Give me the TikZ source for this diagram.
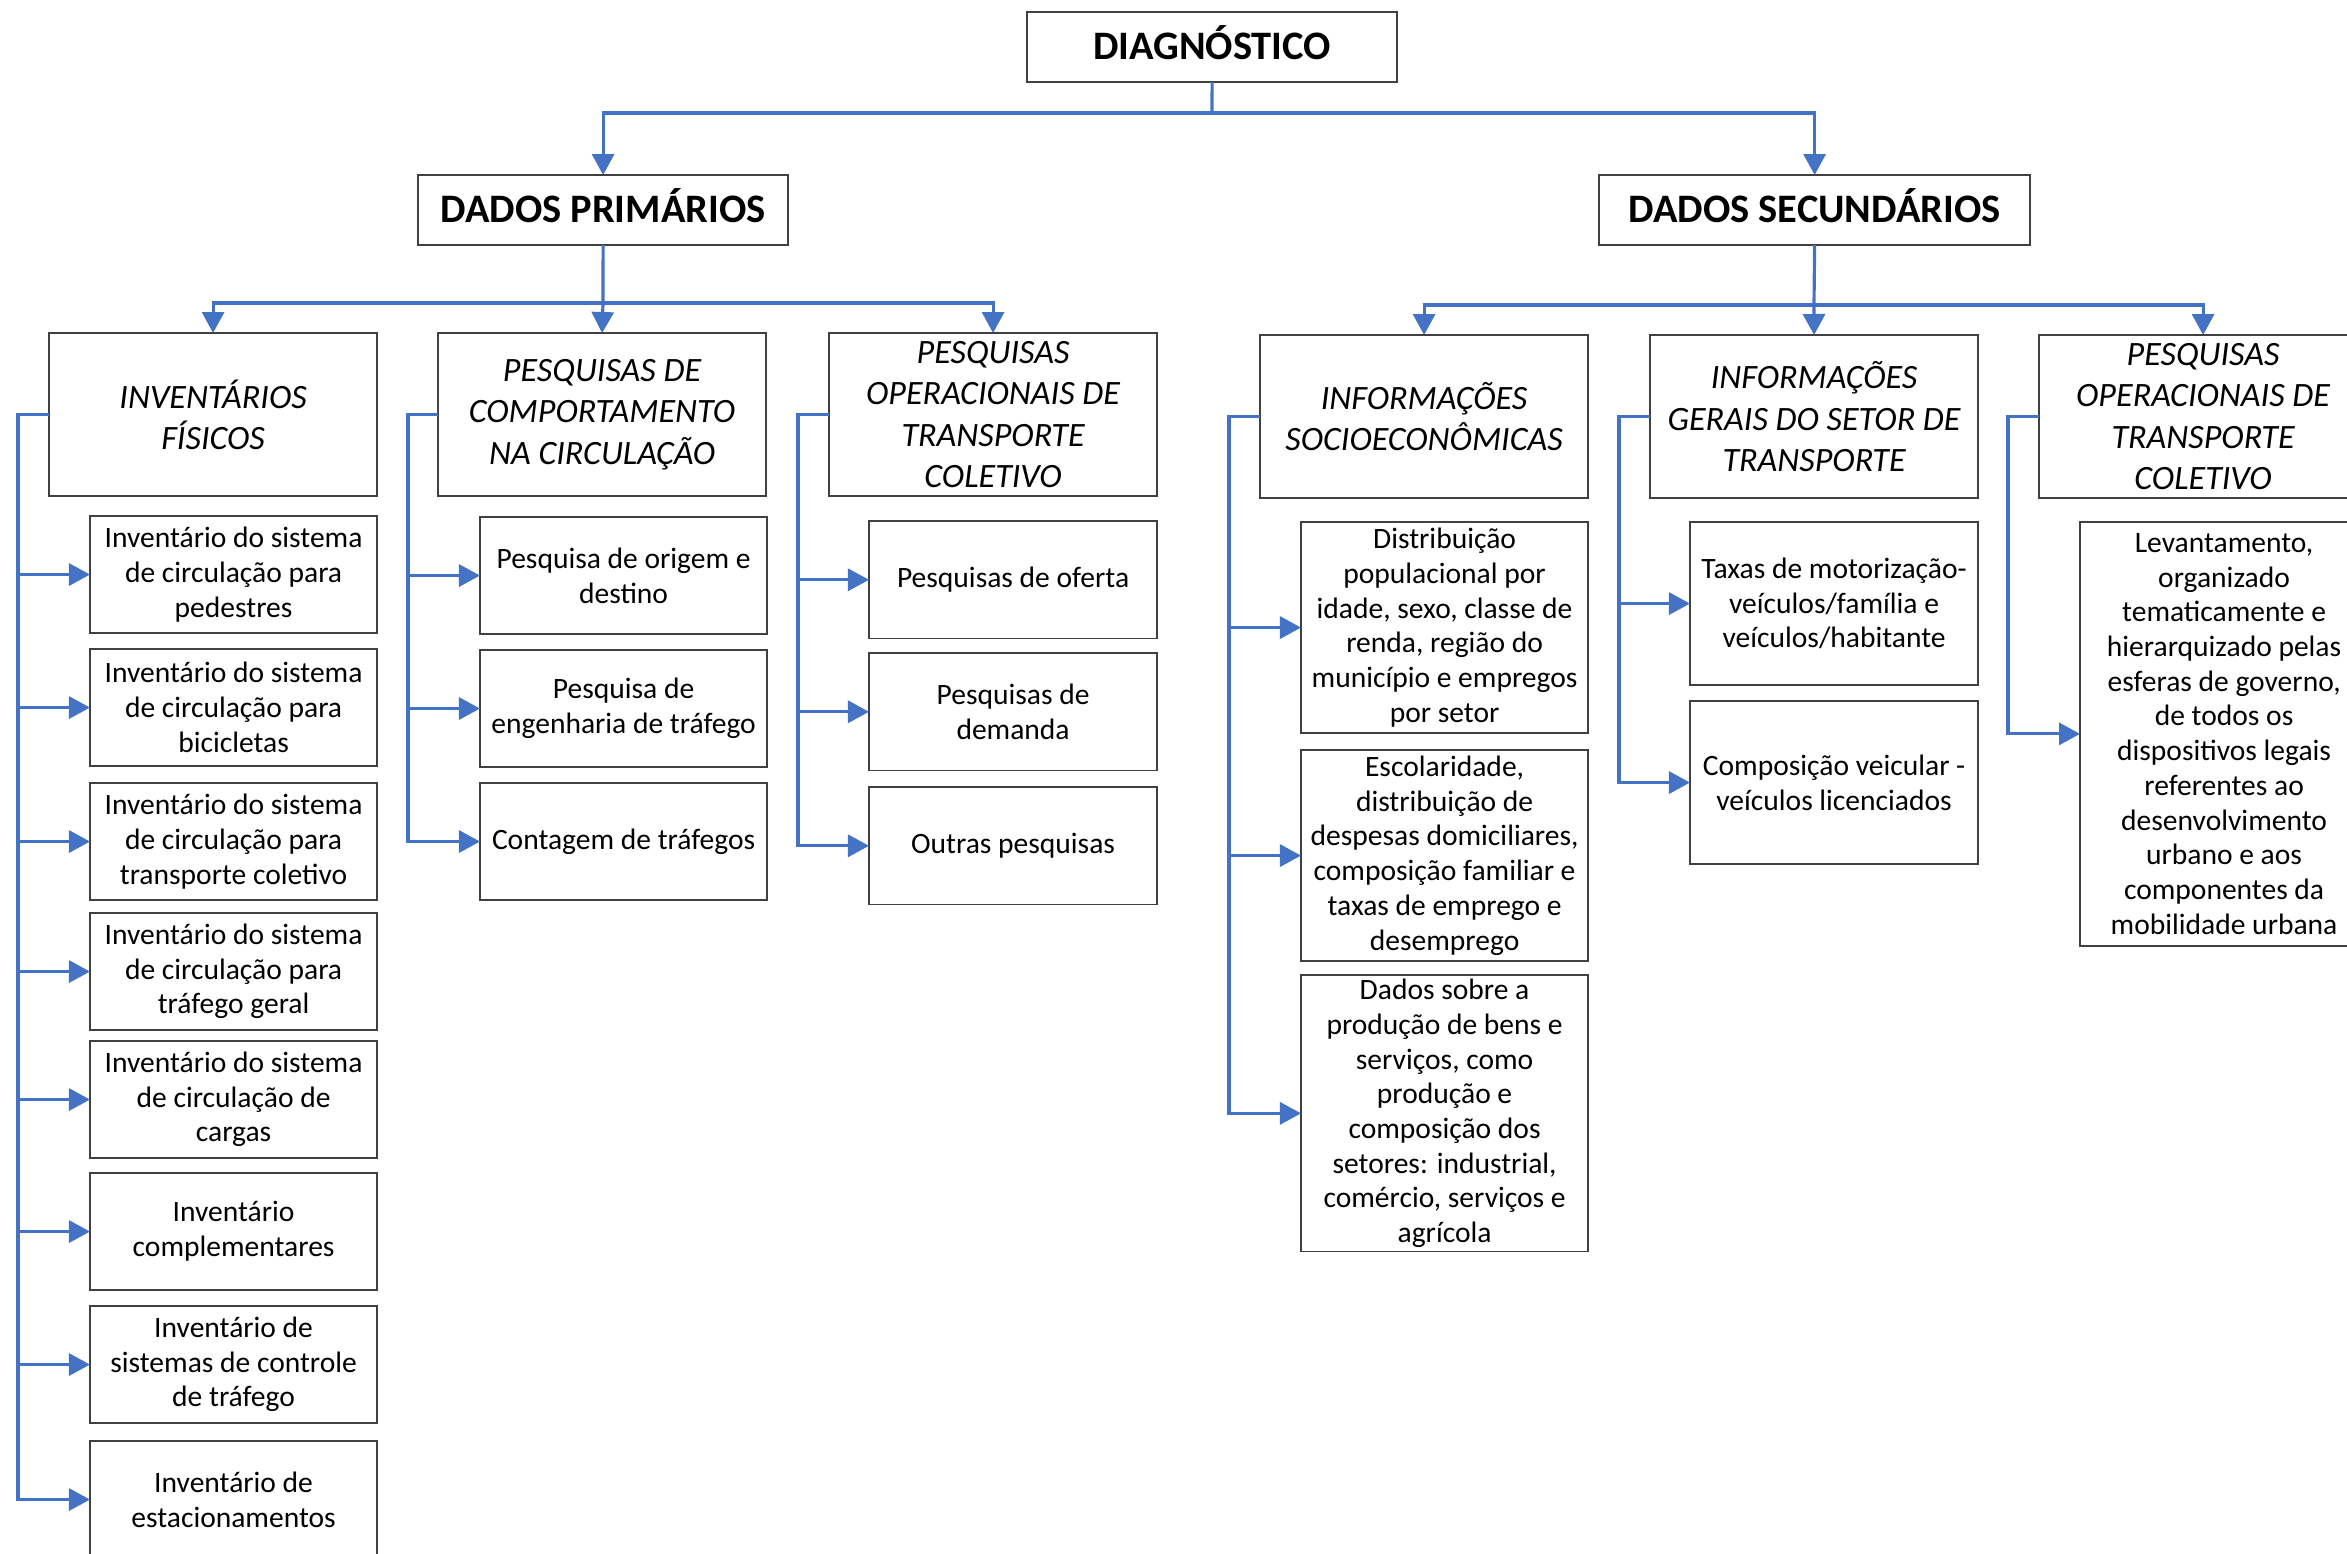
\documentclass[tikz,border=0pt]{standalone}
\usepackage{fontspec}
\setmainfont{Carlito}
\usetikzlibrary{arrows.meta}
\definecolor{linkblue}{HTML}{4472C4}
\definecolor{boxline}{HTML}{404040}
\begin{document}
\begin{tikzpicture}[x=0.01cm,y=-0.01cm,
  box/.style={draw=boxline, line width=0.45pt, rectangle, inner sep=0pt, outer sep=0pt,
              anchor=north west, align=center, fill=white},
  topbox/.style={box, font=\fontsize{11.5pt}{13pt}\selectfont\bfseries, minimum height=0.70cm,
                 text height=0.72em, text depth=0pt},
  hdr/.style={box, font=\fontsize{9.7pt}{11.75pt}\selectfont\itshape, minimum width=3.28cm, minimum height=1.63cm},
  leaf/.style={box, font=\fontsize{8.4pt}{9.87pt}\selectfont, minimum width=2.87cm},
  conn/.style={draw=linkblue, line width=0.9pt},
  arr/.style={conn, -{Triangle[length=0.21cm,width=0.22cm]}},
]
\clip (0,0) rectangle (2347,1553);
\fill[white] (0,0) rectangle (2347,1553);

% ---------- top levels ----------
\node[topbox, minimum width=3.70cm] (diag) at (1027,12) {DIAGNÓSTICO};
\node[topbox, minimum width=3.70cm] (prim) at (418,175) {DADOS PRIMÁRIOS};
\node[topbox, minimum width=4.31cm] (sec)  at (1599,175) {DADOS SECUNDÁRIOS};

% ---------- second level ----------
\node[hdr] (inv)  at (49,333)  {INVENTÁRIOS\\FÍSICOS};
\node[hdr] (comp) at (438,333) {PESQUISAS DE\\COMPORTAMENTO\\NA CIRCULAÇÃO};
\node[hdr] (oper) at (829,333) {PESQUISAS\\OPERACIONAIS DE\\TRANSPORTE\\COLETIVO};
\node[hdr] (soc)  at (1260,335) {INFORMAÇÕES\\SOCIOECONÔMICAS};
\node[hdr] (ger)  at (1650,335) {INFORMAÇÕES\\GERAIS DO SETOR DE\\TRANSPORTE};
\node[hdr] (opr)  at (2039,335) {PESQUISAS\\OPERACIONAIS DE\\TRANSPORTE\\COLETIVO};

% ---------- physical inventories ----------
\node[leaf, minimum height=1.17cm] (i1) at (90,516)  {Inventário do sistema\\de circulação para\\pedestres};
\node[leaf, minimum height=1.17cm] (i2) at (90,649)  {Inventário do sistema\\de circulação para\\bicicletas};
\node[leaf, minimum height=1.17cm] (i3) at (90,783)  {Inventário do sistema\\de circulação para\\transporte coletivo};
\node[leaf, minimum height=1.17cm] (i4) at (90,913)  {Inventário do sistema\\de circulação para\\tráfego geral};
\node[leaf, minimum height=1.17cm] (i5) at (90,1041) {Inventário do sistema\\de circulação de\\cargas};
\node[leaf, minimum height=1.17cm] (i6) at (90,1173) {Inventário\\complementares};
\node[leaf, minimum height=1.17cm] (i7) at (90,1306) {Inventário de\\sistemas de controle\\de tráfego};
\node[leaf, minimum height=1.17cm] (i8) at (90,1441) {Inventário de\\estacionamentos};

% ---------- behaviour surveys ----------
\node[leaf, minimum height=1.17cm] (c1) at (480,517) {Pesquisa de origem e\\destino};
\node[leaf, minimum height=1.17cm] (c2) at (480,650) {Pesquisa de\\engenharia de tráfego};
\node[leaf, minimum height=1.17cm] (c3) at (480,783) {Contagem de tráfegos};

% ---------- operational surveys ----------
\node[leaf, minimum height=1.175cm, minimum width=2.88cm] (o1) at (869,521) {Pesquisas de oferta};
\node[leaf, minimum height=1.175cm, minimum width=2.88cm] (o2) at (869,653) {Pesquisas de\\demanda};
\node[leaf, minimum height=1.175cm, minimum width=2.88cm] (o3) at (869,787) {Outras pesquisas};

% ---------- socioeconomic information ----------
\node[leaf, minimum height=2.11cm] (s1) at (1301,522) {Distribuição\\populacional por\\idade, sexo, classe de\\renda, região do\\município e empregos\\por setor};
\node[leaf, minimum height=2.11cm] (s2) at (1301,750) {Escolaridade,\\distribuição de\\despesas domiciliares,\\composição familiar e\\taxas de emprego e\\desemprego};
\node[leaf, minimum height=2.765cm] (s3) at (1301,975) {Dados sobre a\\produção de bens e\\serviços, como\\produção e\\composição dos\\setores: industrial,\\comércio, serviços e\\agrícola};

% ---------- transport sector information ----------
\node[leaf, minimum height=1.63cm, minimum width=2.88cm] (g1) at (1690,522) {Taxas de motorização-\\veículos/família e\\veículos/habitante};
\node[leaf, minimum height=1.63cm, minimum width=2.88cm] (g2) at (1690,701) {Composição veicular -\\veículos licenciados};

% ---------- public transport surveys ----------
\node[leaf, minimum height=4.235cm, minimum width=2.88cm] (p1) at (2080,522) {Levantamento,\\organizado\\tematicamente e\\hierarquizado pelas\\esferas de governo,\\de todos os\\dispositivos legais\\referentes ao\\desenvolvimento\\urbano e aos\\componentes da\\mobilidade urbana};

% ---------- tree connectors ----------
\coordinate (j0) at (1212,113);
\coordinate (j1) at (603,303);
\coordinate (j2) at (1814,305);

\draw[conn] (diag.south) -- (j0);
\draw[arr] (j0) -| (prim.north);
\draw[arr] (j0) -| (sec.north);

\draw[conn] (prim.south) -- (j1);
\draw[arr] (j1) -| (inv.north);
\draw[arr] (j1) -- (comp.north);
\draw[arr] (j1) -| (oper.north);

\draw[conn] (sec.south) -- (j2);
\draw[arr] (j2) -| (soc.north);
\draw[arr] (j2) -- (ger.north);
\draw[arr] (j2) -| (opr.north);

% ---------- side connectors ----------
\foreach \c in {i1,i2,i3,i4,i5,i6,i7,i8}
  \draw[arr] (inv.west) -- ++(-31,0) |- (\c.west);
\foreach \c in {c1,c2,c3}
  \draw[arr] (comp.west) -- ++(-30,0) |- (\c.west);
\foreach \c in {o1,o2,o3}
  \draw[arr] (oper.west) -- ++(-31,0) |- (\c.west);
\foreach \c in {s1,s2,s3}
  \draw[arr] (soc.west) -- ++(-31,0) |- (\c.west);
\foreach \c in {g1,g2}
  \draw[arr] (ger.west) -- ++(-31,0) |- (\c.west);
\draw[arr] (opr.west) -- ++(-31,0) |- (p1.west);
\end{tikzpicture}
\end{document}
